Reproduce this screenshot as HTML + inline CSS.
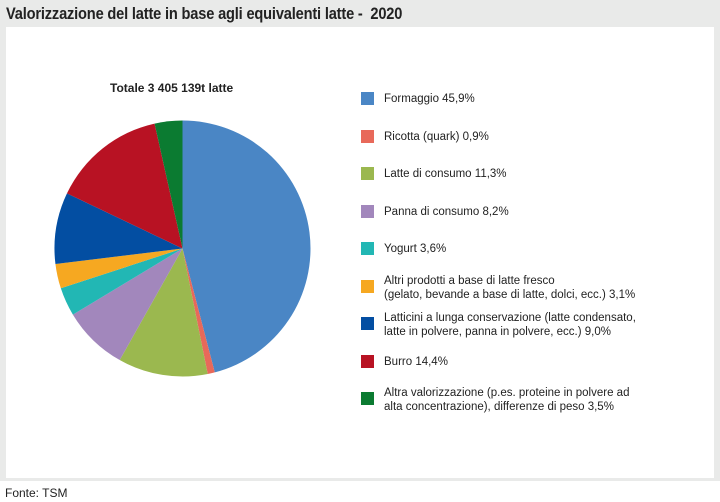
<!DOCTYPE html>
<html><head><meta charset="utf-8"><style>
body{margin:0;width:720px;height:502px;background:#fff;font-family:"Liberation Sans",sans-serif;overflow:hidden;position:relative}
#bg{position:absolute;left:0;top:0;width:720px;height:481px;background:#e9eae9}
#title{position:absolute;left:6px;top:4px;font-size:17px;font-weight:bold;color:#222;letter-spacing:-0.2px;transform:scaleX(0.86);transform-origin:0 0;white-space:nowrap}
#panel{position:absolute;left:6px;top:27px;width:708px;height:451px;background:#fff}
#foot{position:absolute;left:5px;top:486px;font-size:12px;color:#222}
.t{position:absolute;font-size:11.5px;color:#222;line-height:14px;left:384px}
.s{position:absolute;left:361px;width:13px;height:13px}
</style></head><body>
<div id="bg"></div><div id="panel"></div>
<div id="title">Valorizzazione del latte in base agli equivalenti latte -&nbsp; 2020</div>
<div style="position:absolute;left:110px;top:81px;font-size:12px;font-weight:bold;color:#222">Totale 3 405 139t latte</div>
<svg id="pie" style="position:absolute;left:0;top:0" width="720" height="502"></svg>
<div class="s" style="top:92px;background:#4a86c5"></div><div class="t" style="top:92px">Formaggio 45,9%</div>
<div class="s" style="top:130px;background:#e8695a"></div><div class="t" style="top:130px">Ricotta (quark) 0,9%</div>
<div class="s" style="top:167px;background:#9bb84f"></div><div class="t" style="top:167px">Latte di consumo 11,3%</div>
<div class="s" style="top:205px;background:#a287bc"></div><div class="t" style="top:205px">Panna di consumo 8,2%</div>
<div class="s" style="top:242px;background:#22b7b4"></div><div class="t" style="top:242px">Yogurt 3,6%</div>
<div class="s" style="top:280px;background:#f6a821"></div><div class="t" style="top:274px">Altri prodotti a base di latte fresco<br>(gelato, bevande a base di latte, dolci, ecc.) 3,1%</div>
<div class="s" style="top:317px;background:#034ea2"></div><div class="t" style="top:311px">Latticini a lunga conservazione (latte condensato,<br>latte in polvere, panna in polvere, ecc.) 9,0%</div>
<div class="s" style="top:355px;background:#b81223"></div><div class="t" style="top:355px">Burro 14,4%</div>
<div class="s" style="top:392px;background:#0b7b31"></div><div class="t" style="top:386px">Altra valorizzazione (p.es. proteine in polvere ad<br>alta concentrazione), differenze di peso 3,5%</div>
<div id="foot">Fonte: TSM</div>
<script>
var v=[45.9,0.9,11.3,8.2,3.6,3.1,9.0,14.4,3.5],c=["#4a86c5","#e8695a","#9bb84f","#a287bc","#22b7b4","#f6a821","#034ea2","#b81223","#0b7b31"];
var tot=v.reduce((a,b)=>a+b),cx=182.5,cy=248.5,r=128,a=-Math.PI/2,h="";
v.forEach(function(x,i){var b=a+x/tot*2*Math.PI;var l=(b-a)>Math.PI?1:0;
h+='<path fill="'+c[i]+'" d="M'+cx+','+cy+'L'+(cx+r*Math.cos(a))+','+(cy+r*Math.sin(a))+'A'+r+','+r+' 0 '+l+' 1 '+(cx+r*Math.cos(b))+','+(cy+r*Math.sin(b))+'Z"/>';a=b;});
document.getElementById("pie").innerHTML=h;
</script>
</body></html>
